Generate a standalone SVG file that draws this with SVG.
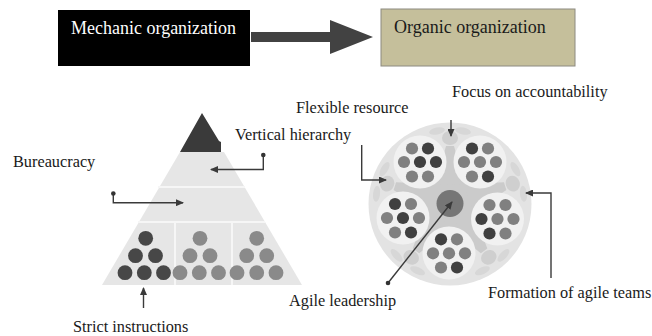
<svg xmlns="http://www.w3.org/2000/svg" xmlns:xlink="http://www.w3.org/1999/xlink" width="652" height="336" viewBox="0 0 652 336">
<style>
.lbl{font-family:"Liberation Serif","Times New Roman",serif;font-size:16.3px;fill:#1a1a1a}
.big{font-family:"Liberation Serif","Times New Roman",serif;font-size:18px}
.con{fill:none;stroke:#3a3a3a;stroke-width:1.4}
.dk{fill:#404040}
.gy{fill:#808080}
.pdk{fill:#474747}
.pgy{fill:#8a8a8a}
.disc{fill:#f1f1f1}
.sep{stroke:#f6f6f6;stroke-width:2;fill:none}
</style>
<defs>
<marker id="ah" markerUnits="userSpaceOnUse" markerWidth="8" markerHeight="7" refX="7" refY="3.5" orient="auto">
<path d="M0,0 L8,3.5 L0,7 Z" fill="#3a3a3a"/>
</marker>
<g id="arm">
<ellipse cx="-13" cy="-73" rx="8" ry="3.5" transform="rotate(-12 -13 -73)" fill="#d7d7d7"/>
<ellipse cx="13" cy="-73" rx="8" ry="3.5" transform="rotate(12 13 -73)" fill="#d7d7d7"/>
<path d="M-20,0 L-4,-58 L4,-58 L20,0 Z" fill="#cbcbcb"/>
<ellipse cx="0" cy="-66" rx="8" ry="7" fill="#cfcfcf"/>
</g>
</defs>
<rect width="652" height="336" fill="#ffffff"/>

<g id="mechanic">
<rect x="58" y="10" width="192" height="56" fill="#000000"/>
<text class="big" x="71" y="34" fill="#ffffff">Mechanic organization</text>
</g>

<g id="organic">
<rect x="381" y="9" width="194" height="57" fill="#c5bf9b" stroke="#8c8a80" stroke-width="1"/>
<text class="big" x="394" y="33" fill="#1a1a1a">Organic organization</text>
</g>

<g id="pyramid">
<polygon points="180,152 224,152 302,285 102,285" fill="#e6e6e6"/>
<line class="sep" x1="158" y1="187" x2="245" y2="187"/>
<line class="sep" x1="138" y1="222" x2="265" y2="222"/>
<line class="sep" x1="175" y1="222" x2="175" y2="285"/>
<line class="sep" x1="232" y1="222" x2="232" y2="285"/>
<polygon points="202,113 219,141 221,142 221,152 180,152" fill="#3a3a3a"/>
<circle class="pdk" cx="145.7" cy="238.3" r="7.4"/>
<circle class="pdk" cx="135.5" cy="255.7" r="7.4"/>
<circle class="pdk" cx="155.5" cy="255.7" r="7.4"/>
<circle class="pdk" cx="125" cy="272.7" r="7.4"/>
<circle class="pdk" cx="144.3" cy="272.7" r="7.4"/>
<circle class="pdk" cx="163.5" cy="272.7" r="7.4"/>
<circle class="pgy" cx="200" cy="238.3" r="7.4"/>
<circle class="pgy" cx="190" cy="255.7" r="7.4"/>
<circle class="pgy" cx="210" cy="255.7" r="7.4"/>
<circle class="pgy" cx="180" cy="272.7" r="7.4"/>
<circle class="pgy" cx="199.3" cy="272.7" r="7.4"/>
<circle class="pgy" cx="218.5" cy="272.7" r="7.4"/>
<circle class="pgy" cx="256.7" cy="238.3" r="7.4"/>
<circle class="pgy" cx="246.7" cy="255.7" r="7.4"/>
<circle class="pgy" cx="266.7" cy="255.7" r="7.4"/>
<circle class="pgy" cx="237" cy="272.7" r="7.4"/>
<circle class="pgy" cx="256.7" cy="272.7" r="7.4"/>
<circle class="pgy" cx="276" cy="272.7" r="7.4"/>
</g>

<g id="circle-org">
<circle cx="450" cy="204" r="81.5" fill="#e3e3e3"/>
<circle cx="450" cy="204" r="34" fill="#cbcbcb"/>
<use xlink:href="#arm" transform="translate(450,204)"/>
<use xlink:href="#arm" transform="translate(450,204) rotate(72)"/>
<use xlink:href="#arm" transform="translate(450,204) rotate(144)"/>
<use xlink:href="#arm" transform="translate(450,204) rotate(216)"/>
<use xlink:href="#arm" transform="translate(450,204) rotate(288)"/>
<circle class="disc" cx="420" cy="162" r="26.5"/>
<circle class="disc" cx="480" cy="162" r="26.5"/>
<circle class="disc" cx="403" cy="218" r="26.5"/>
<circle class="disc" cx="497.5" cy="219" r="26.5"/>
<circle class="disc" cx="449" cy="253" r="26.5"/>
<circle cx="450" cy="203.5" r="13.5" fill="#767676"/>
<!-- top-left -->
<circle class="gy" cx="412" cy="148.5" r="6.1"/>
<circle class="dk" cx="428" cy="148.5" r="6.1"/>
<circle class="gy" cx="404" cy="162" r="6.1"/>
<circle class="dk" cx="420" cy="162" r="6.1"/>
<circle class="dk" cx="436" cy="162" r="6.1"/>
<circle class="gy" cx="412" cy="176.5" r="6.1"/>
<circle class="gy" cx="428" cy="176.5" r="6.1"/>
<!-- top-right -->
<circle class="dk" cx="472" cy="148.5" r="6.1"/>
<circle class="gy" cx="488" cy="148.5" r="6.1"/>
<circle class="gy" cx="464" cy="162" r="6.1"/>
<circle class="gy" cx="480" cy="162" r="6.1"/>
<circle class="gy" cx="496" cy="162" r="6.1"/>
<circle class="gy" cx="472" cy="176.5" r="6.1"/>
<circle class="dk" cx="488" cy="176.5" r="6.1"/>
<!-- left -->
<circle class="dk" cx="395" cy="204" r="6.1"/>
<circle class="gy" cx="411" cy="204" r="6.1"/>
<circle class="gy" cx="387" cy="218" r="6.1"/>
<circle class="dk" cx="403" cy="218" r="6.1"/>
<circle class="gy" cx="419" cy="218" r="6.1"/>
<circle class="gy" cx="395" cy="232.5" r="6.1"/>
<circle class="dk" cx="411" cy="232.5" r="6.1"/>
<!-- right -->
<circle class="gy" cx="489.5" cy="205" r="6.1"/>
<circle class="gy" cx="505.5" cy="205" r="6.1"/>
<circle class="dk" cx="481.5" cy="219" r="6.1"/>
<circle class="gy" cx="497.5" cy="219" r="6.1"/>
<circle class="gy" cx="513.5" cy="219" r="6.1"/>
<circle class="dk" cx="489.5" cy="233.5" r="6.1"/>
<circle class="gy" cx="505.5" cy="233.5" r="6.1"/>
<!-- bottom -->
<circle class="dk" cx="441" cy="239.3" r="6.1"/>
<circle class="gy" cx="457" cy="239.3" r="6.1"/>
<circle class="gy" cx="433" cy="253.3" r="6.1"/>
<circle class="gy" cx="449" cy="253.3" r="6.1"/>
<circle class="gy" cx="465" cy="253.3" r="6.1"/>
<circle class="gy" cx="441" cy="267.5" r="6.1"/>
<circle class="dk" cx="457" cy="267.5" r="6.1"/>
</g>

<g id="label-bureaucracy"><text class="lbl" x="13" y="167">Bureaucracy</text></g>
<g id="label-vertical"><text class="lbl" x="235" y="140">Vertical hierarchy</text></g>
<g id="label-flexible"><text class="lbl" x="296" y="113">Flexible resource</text></g>
<g id="label-focus"><text class="lbl" x="452" y="97">Focus on accountability</text></g>
<g id="label-strict"><text class="lbl" x="73" y="332">Strict instructions</text></g>
<g id="label-agile"><text class="lbl" x="289" y="306">Agile leadership</text></g>
<g id="label-formation"><text class="lbl" x="488" y="298">Formation of agile teams</text></g>

<g id="connectors">
<path d="M251,32 H330 V20 L373,37 L330,54 V42 H251 Z" fill="#424242"/>
<path class="con" d="M263.3,155 V169.5 H211" marker-end="url(#ah)"/>
<circle cx="263.3" cy="155" r="2.3" fill="#333"/>
<path class="con" d="M113.3,193.5 V202.7 H183" marker-end="url(#ah)"/>
<circle cx="113.3" cy="193.5" r="2.3" fill="#333"/>
<path class="con" d="M143.5,308 V288" marker-end="url(#ah)"/>
<path class="con" d="M361.7,145 V180 H386" marker-end="url(#ah)"/>
<path class="con" d="M451,120 V136" marker-end="url(#ah)"/>
<path class="con" d="M551,278 V193 H526" marker-end="url(#ah)"/>
<path class="con" d="M388,283 L452,202" marker-end="url(#ah)"/>
<circle cx="388" cy="283" r="2.3" fill="#333"/>
</g>
</svg>
